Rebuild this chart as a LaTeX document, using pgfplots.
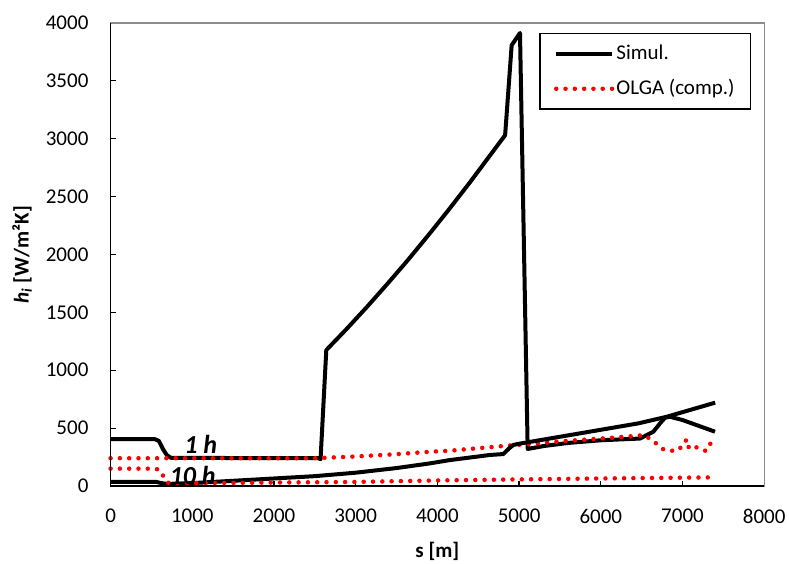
\documentclass[border=0pt]{standalone}
\usepackage{fontspec}
\setmainfont{Carlito}
\usepackage{pgfplots}
\pgfplotsset{compat=1.18}

% Heat transfer coefficient along the pipeline, after 1 h and after 10 h
\pgfplotstableread{
s h
0 405
540 405
590 390
640 320
690 265
740 243
2540 240
2570 232
2640 1174
2900 1365
3140 1549
3400 1756
3640 1953
3900 2176
4140 2388
4400 2625
4640 2852
4829 3031
4909 3808
5011 3914
5105 320
5300 345
5600 372
6000 395
6480 410
6643 469
6725 541
6786 590
6847 598
7000 570
7398 469
}\simA

\pgfplotstableread{
s h
0 35
560 35
620 25
700 17
1000 25
1500 45
2000 65
2500 85
3000 115
3500 155
3914 196
4154 224
4642 268
4807 276
4870 320
4929 355
5000 365
6459 541
6806 598
7400 720
}\simB

\pgfplotstableread{
s h
0 240
2500 240
3000 255
3500 275
3909 296
4154 305
4848 348
5133 363
5500 385
6000 410
6310 426
6532 440
6623 397
6704 354
6765 317
6855 305
6937 305
7010 354
7051 403
7080 325
7141 340
7214 325
7276 305
7316 317
7345 374
7377 426
}\olgaA

\pgfplotstableread{
s h
0 150
540 150
600 140
650 80
700 28
1000 25
2000 30
3000 35
4000 48
5000 57
6000 65
7000 72
7330 74
}\olgaB

\begin{document}
\fontsize{21}{25}\selectfont
\begin{tikzpicture}
\path[use as bounding box] (-110.6pt,-78pt) rectangle (678.4pt,486pt);
\begin{axis}[
  name=ax, at={(0,0)}, anchor=south west,
  scale only axis, width=653.6pt, height=463pt,
  xmin=0, xmax=8000, ymin=0, ymax=4000,
  xtick={0,1000,...,8000}, ytick={0,500,...,4000},
  xtick pos=bottom, ytick pos=left,
  tick align=inside, major tick length=5pt,
  tick style={black, line width=1.2pt},
  axis line style={draw=black!45, line width=1.3pt},
  /pgf/number format/assume math mode=true,
  /pgf/number format/set thousands separator={},
  ticklabel style={font=\fontsize{21}{25}\selectfont},
  xticklabel style={inner sep=0pt, anchor=north, yshift=-23pt},
  yticklabel style={inner sep=0pt, anchor=east, xshift=-22pt},
  xlabel={\bfseries s [m]},
  ylabel={\bfseries\itshape h\textsubscript{i}\upshape\ [W/m²K]},
  xlabel style={at={(axis description cs:0.5,-0.1404)}, anchor=center, inner sep=0pt},
  ylabel style={at={(axis description cs:-0.1355,0.5)}, anchor=center, inner sep=0pt},
  clip=false,
  legend style={at={(0.98,0.978)}, anchor=north east, draw=black, line width=1.2pt,
    font=\fontsize{21}{25}\selectfont, inner xsep=14pt, inner ysep=9pt, row sep=13pt},
  legend cell align=left,
  legend image code/.code={\draw[#1] (0pt,0pt) -- (56pt,0pt);},
]
\addplot[black, line width=4pt, line join=round] table[x=s,y=h] {\simA};
\addlegendentry{Simul.}
\addplot[red, line width=4.5pt, line cap=round, dash pattern=on 0pt off 9.3pt] table[x=s,y=h] {\olgaA};
\addlegendentry{OLGA (comp.)}
\addplot[black, line width=4pt, line join=round, forget plot] table[x=s,y=h] {\simB};
\addplot[red, line width=4.5pt, line cap=round, dash pattern=on 0pt off 9.3pt, forget plot] table[x=s,y=h] {\olgaB};
\node[font=\fontsize{26}{30}\selectfont\bfseries\itshape] at (axis cs:1103,363) {1 h};
\node[font=\fontsize{26}{30}\selectfont\bfseries\itshape] at (axis cs:1005,95) {10 h};
\end{axis}
\draw[black, line width=1.3pt] (ax.north west) -- (ax.south west) -- (ax.south east);
\end{tikzpicture}
\end{document}
